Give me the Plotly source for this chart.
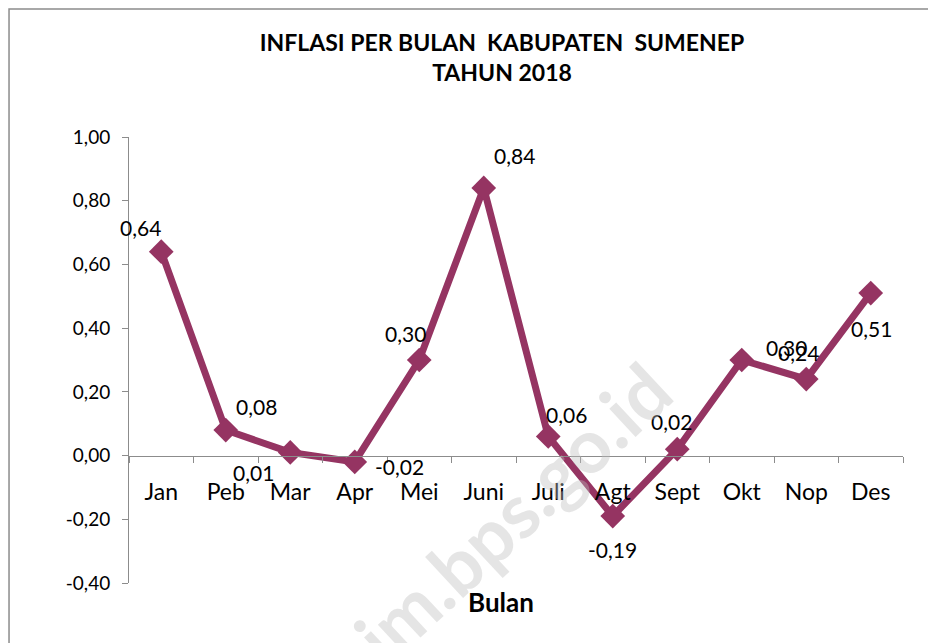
import plotly.graph_objects as go

bulan = ["Jan", "Peb", "Mar", "Apr", "Mei", "Juni", "Juli", "Agt", "Sept", "Okt", "Nop", "Des"]
inflasi = [0.64, 0.08, 0.01, -0.02, 0.30, 0.84, 0.06, -0.19, 0.02, 0.30, 0.24, 0.51]
y_ticks = [-0.4, -0.2, 0.0, 0.2, 0.4, 0.6, 0.8, 1.0]
y_ticktext = ["-0,40", "-0,20", "0,00", "0,20", "0,40", "0,60", "0,80", "1,00"]

# label offsets (px) relative to marker, like the manually placed excel labels
label_shift = [(-21, 24), (31, 24), (-37, -20), (45, -5), (-14, 27), (31, 32),
               (18, 22), (0, -33), (-6, 28), (45, 13), (-8, 27), (1, -35)]

warna = "#953462"
font = "Lato, 'Open Sans', sans-serif"

fig = go.Figure()
fig.add_trace(go.Scatter(
    x=bulan, y=inflasi, mode="lines+markers",
    line=dict(color=warna, width=7),
    marker=dict(symbol="diamond", size=19, color=warna),
    hoverinfo="skip",
))

for b, v, (dx, dy) in zip(bulan, inflasi, label_shift):
    fig.add_annotation(x=b, y=v, text=f"{v:.2f}".replace(".", ","),
                       showarrow=False, xshift=dx, yshift=dy,
                       font=dict(size=21, color="black", family=font))

# watermark
fig.add_annotation(text="sim.bps.go.id", xref="paper", yref="paper", x=0.479, y=0.133,
                   xanchor="center", yanchor="middle",
                   showarrow=False, textangle=-43,
                   font=dict(size=75, color="rgba(190,190,190,0.4)", family=font, weight="bold"))

fig.add_annotation(text="<b>Bulan</b>", xref="paper", yref="paper", x=0.481, y=-0.083,
                   showarrow=False, font=dict(size=26, color="black", family=font))

# chart border
fig.add_shape(type="rect", xref="paper", yref="paper", x0=-0.155, x1=1.2, y0=-0.5, y1=1.287,
              line=dict(color="#8c8c8c", width=1.5), layer="below")

fig.update_layout(
    width=936, height=643,
    margin=dict(l=121, r=41, t=129, b=68),
    paper_bgcolor="white", plot_bgcolor="white",
    showlegend=False,
    title=dict(text="<b>INFLASI PER BULAN\u00a0 KABUPATEN\u00a0 SUMENEP<br>TAHUN 2018</b>",
               x=494 / 936, xanchor="center", xref="container",
               y=1 - 43 / 643, yanchor="top",
               font=dict(size=23, color="black", family=font)),
)
fig.update_xaxes(
    type="category", range=[-0.5, 11.5], anchor="free", position=0.4 / 1.4,
    showline=True, linecolor="#8c8c8c", linewidth=1,
    ticks="outside", tickson="boundaries", ticklen=6, tickcolor="#8c8c8c",
    ticklabelstandoff=16,
    showgrid=False, zeroline=False,
    tickfont=dict(size=23, color="black", family=font),
)
fig.update_yaxes(
    range=[-0.4, 1.0], tickvals=y_ticks, ticktext=y_ticktext,
    showline=True, linecolor="#8c8c8c", linewidth=1,
    ticks="outside", ticklen=6, tickcolor="#8c8c8c",
    ticklabelstandoff=8,
    showgrid=False, zeroline=False,
    tickfont=dict(size=19, color="black", family=font),
)

fig.write_html("out.html")
